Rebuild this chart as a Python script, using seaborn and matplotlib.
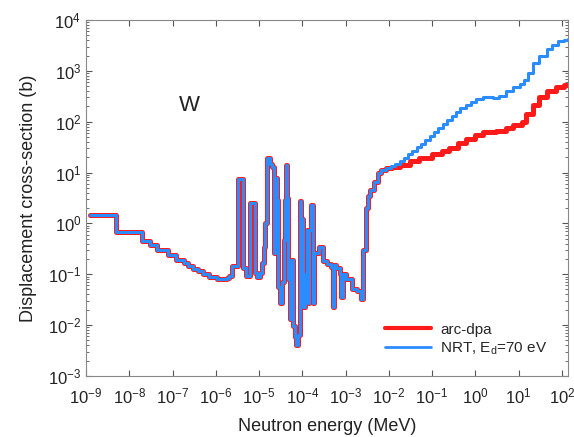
import numpy as np
import pandas as pd
import matplotlib
matplotlib.use("Agg")
import matplotlib.pyplot as plt
import seaborn as sns

# shared low-energy part (thermal + resonance region), step edges in MeV and values in b
low_energy = [1.2e-9, 4.9e-9, 2.0e-8, 3.0e-8, 4.3e-8, 8.0e-8, 1.2e-7, 1.8e-7, 2.3e-7, 3.0e-7,
              3.9e-7, 5.1e-7, 6.9e-7, 1.07e-6, 1.8e-6, 2.0e-6, 2.4e-6, 3.2e-6, 4.3e-6, 5.1e-6,
              6.1e-6, 8.0e-6, 9.1e-6, 1.05e-5, 1.18e-5, 1.3e-5, 1.4e-5, 1.5e-5, 1.78e-5, 1.95e-5,
              2.15e-5, 2.3e-5, 2.6e-5, 2.75e-5, 3.0e-5, 3.4e-5, 3.45e-5, 3.7e-5, 3.95e-5, 4.2e-5,
              4.5e-5, 4.7e-5, 5.1e-5, 5.6e-5, 6.1e-5, 6.7e-5, 7.3e-5, 8.0e-5, 8.7e-5, 9.5e-5,
              1.04e-4, 1.14e-4, 1.25e-4, 1.36e-4, 1.44e-4, 1.62e-4, 1.77e-4, 1.84e-4, 2.45e-4, 2.95e-4,
              3.65e-4, 4.5e-4, 5.0e-4, 5.4e-4, 5.9e-4, 7.4e-4, 8.0e-4, 8.7e-4, 1.04e-3, 1.37e-3,
              1.8e-3, 2.3e-3, 2.5e-3, 2.9e-3, 3.3e-3, 3.7e-3, 4.5e-3, 5.6e-3, 6.7e-3]
low_xs = [1.43, 0.69, 0.46, 0.38, 0.30, 0.24, 0.19, 0.166, 0.142, 0.128,
          0.114, 0.102, 0.088, 0.080, 0.083, 0.091, 0.142, 7.4, 0.13, 0.093,
          2.5, 0.105, 0.088, 0.107, 0.166, 0.34, 1.0, 19.0, 15.0, 13.0,
          0.26, 7.7, 2.9, 0.057, 0.027, 0.067, 0.07, 0.48, 2.9, 14.0,
          3.2, 0.08, 0.013, 0.19, 0.0097, 0.0058, 0.0041, 0.0065, 2.7, 1.2,
          0.023, 0.10, 0.73, 0.027, 0.73, 2.3, 0.027, 0.26, 0.34, 0.18,
          0.16, 0.14, 0.023, 0.15, 0.13, 0.103, 0.036, 0.103, 0.08, 0.05,
          0.047, 0.032, 0.30, 2.0, 3.4, 4.6, 6.6, 10.0, 11.0]

# high-energy part, where the two models split
arc_energy = [8.7e-3, 0.012, 0.018, 0.03, 0.05, 0.1, 0.17, 0.25, 0.4, 0.62, 1.0, 1.5, 3.0,
              5.0, 7.4, 12.0, 15.0, 21.0, 30.0, 44.0, 74.0, 110.0, 140.0]
arc_xs = [12.3, 13.0, 14.0, 17.0, 19.5, 23.0, 27.0, 31.0, 38.0, 46.0, 56.0, 63.0, 65.0,
          75.0, 88.0, 100.0, 140.0, 210.0, 300.0, 400.0, 490.0, 520.0, 525.0]

nrt_energy = [8.7e-3, 0.011, 0.014, 0.018, 0.022, 0.028, 0.035, 0.044, 0.055, 0.07, 0.088,
              0.11, 0.14, 0.18, 0.22, 0.28, 0.35, 0.45, 0.6, 0.8, 1.05, 1.5, 1.9, 2.6, 3.5,
              5.2, 7.5, 10.5, 13.0, 16.0, 21.0, 30.0, 44.0, 60.0, 80.0, 110.0, 140.0]
nrt_xs = [12.3, 13.5, 15.0, 17.0, 19.5, 23.0, 27.0, 32.0, 37.0, 44.0, 52.0,
          62.0, 75.0, 90.0, 108.0, 130.0, 155.0, 185.0, 215.0, 250.0, 275.0, 300.0, 305.0, 290.0, 320.0,
          400.0, 480.0, 560.0, 650.0, 900.0, 1400.0, 2000.0, 2700.0, 3300.0, 3800.0, 4100.0, 4200.0]

arc = pd.DataFrame({"E": low_energy + arc_energy, "xs": low_xs + arc_xs})
nrt = pd.DataFrame({"E": low_energy + nrt_energy, "xs": low_xs + nrt_xs})

sns.set_style("ticks")
plt.rcParams["font.family"] = ["Liberation Sans", "DejaVu Sans"]
plt.rcParams["mathtext.default"] = "regular"

fig = plt.figure(figsize=(5.74, 4.37), dpi=100)
ax = fig.add_axes([0.150, 0.140, 0.840, 0.814])

sns.lineplot(data=arc, x="E", y="xs", ax=ax, color="#ff1a1a", lw=3.6,
             drawstyle="steps-post", label="arc-dpa", sort=False, estimator=None)
sns.lineplot(data=nrt, x="E", y="xs", ax=ax, color="#2b8cff", lw=2.2,
             drawstyle="steps-post", label="NRT, E$_d$=70 eV", sort=False, estimator=None)

ax.set_xscale("log")
ax.set_yscale("log")
ax.set_xlim(1e-9, 1.4e2)
ax.set_ylim(1e-3, 1e4)
ax.set_xticks([10.0 ** k for k in range(-9, 3)])
ax.set_yticks([10.0 ** k for k in range(-3, 5)])

ax.set_xlabel("Neutron energy (MeV)", fontsize=13, color="#222222", labelpad=8)
ax.set_ylabel("Displacement cross-section (b)", fontsize=13, color="#222222", labelpad=8)
ax.tick_params(which="both", direction="in", top=True, right=True, colors="#555555",
               labelcolor="#222222", labelsize=12)
ax.tick_params(axis="x", which="major", pad=8)
ax.tick_params(which="major", length=4)
ax.tick_params(which="minor", length=2)
for s in ax.spines.values():
    s.set_visible(True)
    s.set_color("#888888")

ax.text(2.5e-7, 2.1e2, "W", fontsize=16, ha="center", va="center", color="#222222")

leg = ax.legend(loc="lower right", frameon=False, fontsize=11, handlelength=3.0,
                bbox_to_anchor=(0.985, 0.015), labelspacing=0.25, handletextpad=0.6)
for h in leg.get_lines():
    h.set_linewidth(3 if h.get_color() == "#ff1a1a" else 2)

plt.savefig("out.png", dpi=100)
